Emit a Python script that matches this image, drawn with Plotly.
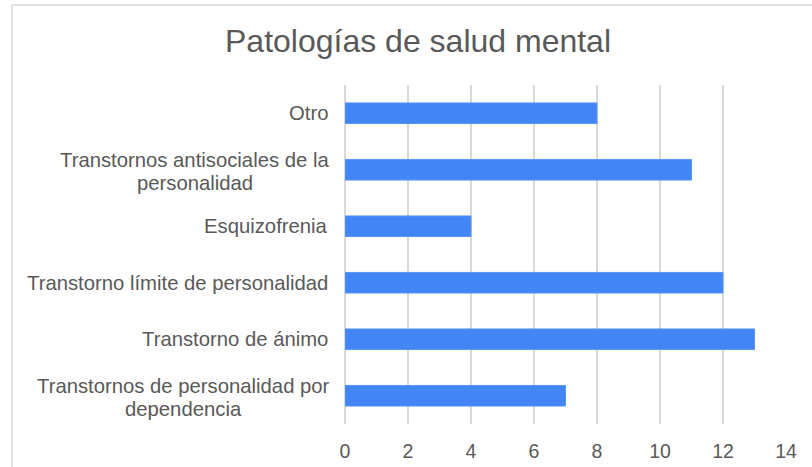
import plotly.graph_objects as go

categories = [
    "Transtornos de personalidad por<br>dependencia",
    "Transtorno de ánimo",
    "Transtorno límite de personalidad",
    "Esquizofrenia",
    "Transtornos antisociales de la<br>personalidad",
    "Otro",
]
values = [7, 13, 12, 4, 11, 8]
x_ticks = [0, 2, 4, 6, 8, 10, 12, 14]
title_text = "Patologías de salud mental"

W, H = 812, 467
ml, mr, mt, mb = 345, 26, 85, 43
pw = W - ml - mr
ph = H - mt - mb
FONT = "Liberation Sans, Arial, sans-serif"
GREY = "#595959"
LABEL_SIZE = 20.3
LINE_GAP = 23
# approximate pixel widths of the first line of wrapped labels (for centring the block)
WRAP_WIDTH = {"Transtornos antisociales de la": 271, "Transtornos de personalidad por": 293}

fig = go.Figure()
fig.add_trace(go.Bar(
    y=list(range(len(categories))),
    x=values,
    orientation="h",
    marker=dict(color="#4285F4", line=dict(color="#5a95f5", width=1)),
    hoverinfo="skip",
))

annotations = []
for i, c in enumerate(categories):
    lines = c.split("<br>")
    n = len(lines)
    for k, ln in enumerate(lines):
        if n == 1:
            xa, xs = "right", -15
        else:
            xa, xs = "center", -15 - WRAP_WIDTH.get(lines[0], 280) / 2
        annotations.append(dict(
            x=0, xref="paper", y=i, yref="y", text=ln, showarrow=False,
            xanchor=xa, yanchor="middle", xshift=xs,
            yshift=((n - 1) / 2 - k) * LINE_GAP - (2 if n > 1 else 0),
            font=dict(family=FONT, size=LABEL_SIZE, color=GREY),
        ))

# chart border (decorative frame)
fig.add_shape(type="rect", xref="paper", yref="paper",
              x0=(12 - ml) / pw, x1=(W + 20 - ml) / pw,
              y0=-(mb + 20) / ph, y1=1 + (mt - 5) / ph,
              line=dict(color="#d9d9d9", width=1.5), fillcolor="rgba(0,0,0,0)", layer="below")

fig.update_layout(
    width=W, height=H,
    margin=dict(l=ml, r=mr, t=mt, b=mb, pad=0, autoexpand=False),
    paper_bgcolor="white", plot_bgcolor="white",
    showlegend=False,
    bargap=0.635,
    title=dict(text=title_text, x=(228 + 608) / 2 / W, xanchor="center",
               y=1 - 41 / H, yanchor="middle",
               font=dict(family=FONT, size=32, color=GREY)),
    annotations=annotations,
    xaxis=dict(range=[0, 14], tickvals=x_ticks, showgrid=True, gridcolor="#d9d9d9", gridwidth=1.5,
               zeroline=True, zerolinecolor="#d9d9d9", zerolinewidth=1.5, showline=False,
               ticks="outside", ticklen=10, tickcolor="rgba(0,0,0,0)", automargin=False,
               tickfont=dict(family=FONT, size=19.5, color=GREY)),
    yaxis=dict(range=[-0.5, len(categories) - 0.5], showticklabels=False, showgrid=False,
               zeroline=False, showline=False, automargin=False),
)

fig.write_html("out.html", config={"displayModeBar": False},
               post_script="document.body.style.margin='0';document.body.style.overflow='hidden';")
